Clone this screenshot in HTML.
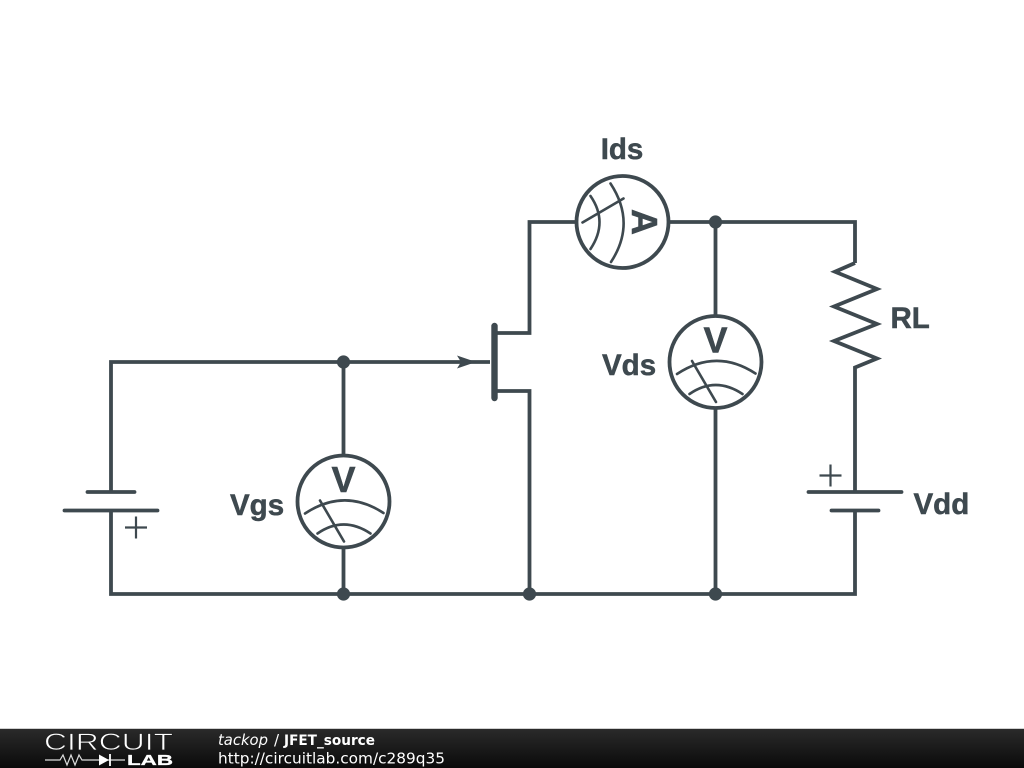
<!DOCTYPE html>
<html>
<head>
<meta charset="utf-8">
<style>
html,body{margin:0;padding:0;background:#fff;width:1024px;height:768px;overflow:hidden}
svg{display:block}
</style>
</head>
<body>
<svg width="1024" height="768" viewBox="0 0 1024 768" xmlns="http://www.w3.org/2000/svg">
<defs>
<linearGradient id="bar" x1="0" y1="0" x2="0" y2="1">
<stop offset="0" stop-color="#2a2a2a"/>
<stop offset="0.5" stop-color="#1a1a1a"/>
<stop offset="1" stop-color="#0a0a0a"/>
</linearGradient>
</defs>
<rect width="1024" height="768" fill="#fff"/>
<g fill="none" stroke="#3e494f" stroke-width="3.800" stroke-linejoin="miter" stroke-linecap="butt">
<!-- wires -->
<path d="M111 492V362H490"/>
<path d="M111 510V594H855V510"/>
<path d="M343.500 362V455M343.500 548V594"/>
<path d="M529.500 594V391H497"/>
<path d="M497 333H529.500V222H576"/>
<path d="M669 222H855V263"/>
<path d="M715.500 222V316M715.500 409V594"/>
<path d="M855 263L835 271.700L877 289L834 306.500L877 324L834 341L877 358.500L855 367.500V492"/>
<!-- batteries -->
<path d="M87.500 492H134.500M64.500 510.500H157.500M808.500 492H901.500M831.500 510.500H878.500" stroke-linecap="round"/>
<!-- meter circles -->
<circle cx="622.500" cy="222" r="46"/>
<circle cx="715.500" cy="362" r="46"/>
<circle cx="343.500" cy="501.500" r="46"/>
</g>
<!-- JFET -->
<path d="M494.500 326V398" stroke="#3e494f" stroke-width="6.400" stroke-linecap="round" fill="none"/>
<path d="M457 355.500L476 362L457 368.500L461 362Z" fill="#3e494f"/>
<!-- junctions -->
<g fill="#3e494f">
<circle cx="343.500" cy="362" r="6.600"/>
<circle cx="715.500" cy="222" r="6.600"/>
<circle cx="343.500" cy="594" r="6.600"/>
<circle cx="529.500" cy="594" r="6.600"/>
<circle cx="715.500" cy="594" r="6.600"/>
</g>
<!-- plus signs -->
<g stroke="#3e494f" stroke-width="2.200" fill="none">
<path d="M125 527.500H147M136 516.500V538.500"/>
<path d="M819.500 475.500H841.500M830.500 464.500V486.500"/>
</g>
<!-- meter internals -->
<g fill="none" stroke="#3e494f" stroke-width="2.600" stroke-linecap="round">
<g transform="translate(715.500 362)">
<path d="M-38.500 12Q1 -14 40 11.500"/>
<path d="M-26 32Q0 14 27 32"/>
<path d="M-23.500 -1L0.500 40"/>
</g>
<g transform="translate(343.500 501.500)">
<path d="M-38.500 12Q1 -14 40 11.500"/>
<path d="M-26 32Q0 14 27 32"/>
<path d="M-23.500 -1L0.500 40"/>
</g>
<g transform="translate(622.500 222) rotate(90)">
<path d="M-38.500 12Q1 -14 40 11.500"/>
<path d="M-26 32Q0 14 27 32"/>
<path d="M-23.500 -1L0.500 40"/>
</g>
</g>
<!-- labels -->
<g font-family="'Liberation Sans',sans-serif" font-weight="bold" fill="#3e494f" stroke="#3e494f" stroke-width="0.500">
<text x="715.500" y="352.500" font-size="36" text-anchor="middle">V</text>
<text x="343.500" y="492" font-size="36" text-anchor="middle">V</text>
<text transform="translate(632 222) rotate(90)" x="0" y="0" font-size="36" text-anchor="middle">A</text>
<text x="622" y="159" font-size="29.500" text-anchor="middle">Ids</text>
<text x="602" y="375" font-size="29.500">Vds</text>
<text x="230" y="515" font-size="29.500">Vgs</text>
<text x="890.500" y="328" font-size="29.500">RL</text>
<text x="913.500" y="514" font-size="29.500">Vdd</text>
</g>
<!-- footer -->
<rect x="0" y="729" width="1024" height="39" fill="url(#bar)"/>
<rect x="0" y="728" width="1024" height="1" fill="#d0d0d0"/>
<text x="44" y="750" font-family="'Liberation Sans',sans-serif" font-size="24" fill="#fff" stroke="#1f1f1f" stroke-width="0.700" textLength="129" lengthAdjust="spacingAndGlyphs">CIRCUIT</text>
<text x="127" y="765" font-family="'Liberation Sans',sans-serif" font-weight="bold" font-size="15" fill="#fff" stroke="#fff" stroke-width="0.300" textLength="46" lengthAdjust="spacingAndGlyphs">LAB</text>
<path d="M45 760H60L63 755L67 765L71 755L75 765L79 755L82 760H125" fill="none" stroke="#ddd" stroke-width="1.200"/>
<path d="M99 754.500L109 760L99 765.500Z" fill="#fff"/>
<path d="M110 754V766" stroke="#fff" stroke-width="1.800"/>
<g font-family="'DejaVu Sans',sans-serif" fill="#fff">
<text x="218" y="745" font-size="15" font-style="italic" textLength="50" lengthAdjust="spacingAndGlyphs">tackop</text>
<text x="274" y="745" font-size="15">/</text>
<text x="284" y="745" font-size="14.500" font-weight="bold" textLength="91" lengthAdjust="spacingAndGlyphs">JFET_source</text>
<text x="218" y="763.500" font-size="15.300" textLength="227" lengthAdjust="spacingAndGlyphs">http://circuitlab.com/c289q35</text>
</g>
</svg>
</body>
</html>
